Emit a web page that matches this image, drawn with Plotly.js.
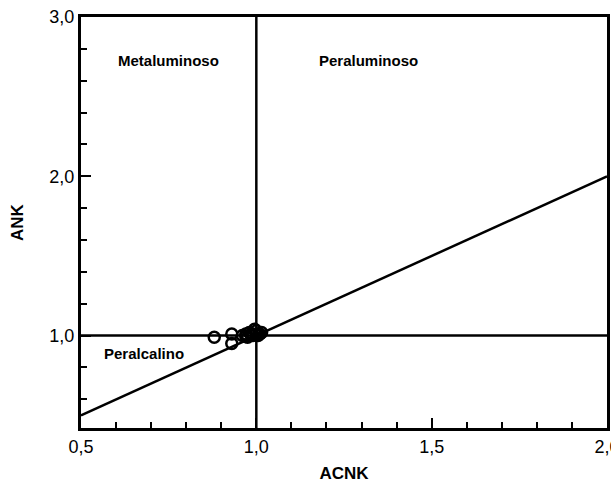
<!DOCTYPE html>
<html>
<head>
<meta charset="utf-8">
<script src="https://cdn.plot.ly/plotly-3.0.1.min.js"></script>
<style>html,body{margin:0;padding:0;background:#fff;}#chart{width:611px;height:483px;}</style>
</head>
<body>
<div id="chart"></div>
<script>
// Sample data (ACNK, ANK)
var acnk = [0.88, 0.93, 0.93, 0.96, 0.97, 0.975, 0.98, 0.99, 0.995, 1.00, 1.00, 1.01, 1.015, 0.985, 0.97, 1.005];
var ank  = [0.99, 1.01, 0.95, 1.00, 1.01, 0.99, 1.02, 1.00, 1.04, 1.03, 1.01, 1.01, 1.02, 1.005, 0.995, 1.00];

// Boundary lines
var diagX = [0.5, 2.0];
var diagY = [0.5, 2.0];
var vertX = [1.0, 1.0];
var vertY = [0.42, 3.0];
var horX = [0.5, 2.0];
var horY = [1.0, 1.0];

// Field labels
var fieldNames = ["Metaluminoso", "Peraluminoso", "Peralcalino"];
var fieldX = [0.75, 1.32, 0.68];
var fieldY = [2.73, 2.73, 0.89];

var xTicks = [0.5, 1.0, 1.5, 2.0];
var yTicks = [1.0, 2.0, 3.0];

var lineStyle = {color: '#000', width: 2.5};
var traces = [
  {x: diagX, y: diagY, mode: 'lines', line: lineStyle, hoverinfo: 'skip'},
  {x: vertX, y: vertY, mode: 'lines', line: lineStyle, hoverinfo: 'skip'},
  {x: horX, y: horY, mode: 'lines', line: lineStyle, hoverinfo: 'skip'},
  {x: acnk, y: ank, mode: 'markers', type: 'scatter',
   marker: {symbol: 'circle-open', size: 11, color: '#000', line: {color: '#000', width: 2.5}}}
];

var fam = 'Liberation Sans, Arial, sans-serif';
var annotations = fieldNames.map(function(t, i){
  return {x: fieldX[i], y: fieldY[i], xref: 'x', yref: 'y', text: '<b>' + t + '</b>',
          showarrow: false, font: {family: fam, size: 15, color: '#000'}};
});

var axisFont = {family: fam, size: 18, color: '#000'};
var layout = {
  width: 611, height: 483,
  margin: {l: 81, r: 4, t: 17, b: 55},
  paper_bgcolor: '#fff', plot_bgcolor: '#fff',
  showlegend: false,
  separators: ',.',
  xaxis: {
    range: [0.5, 2.0], tickvals: xTicks, tickformat: '.1f', ticklabeloverflow: 'allow',
    ticks: 'inside', ticklen: 10, tickwidth: 2, tickcolor: '#000',
    minor: {dtick: 0.1, ticks: 'inside', ticklen: 6, tickwidth: 2, tickcolor: '#000', showgrid: false},
    showline: true, linewidth: 3, linecolor: '#000', mirror: true,
    showgrid: false, zeroline: false, tickfont: axisFont,
    title: {text: '<b>ACNK</b>', font: {family: fam, size: 17, color: '#000'}, standoff: 12}
  },
  yaxis: {
    range: [0.42, 3.0], tickvals: yTicks, tickformat: '.1f', ticklabeloverflow: 'allow',
    ticks: 'inside', ticklen: 10, tickwidth: 2, tickcolor: '#000',
    minor: {tickvals: [0.6,0.8,1.2,1.4,1.6,1.8,2.2,2.4,2.6,2.8], ticks: 'inside', ticklen: 6, tickwidth: 2, tickcolor: '#000', showgrid: false},
    showline: true, linewidth: 3, linecolor: '#000', mirror: true,
    showgrid: false, zeroline: false, tickfont: axisFont,
    title: {text: '<b>ANK</b>', font: {family: fam, size: 17, color: '#000'}, standoff: 22}
  },
  annotations: annotations
};

Plotly.newPlot('chart', traces, layout, {displayModeBar: false, staticPlot: true});
</script>
</body>
</html>
